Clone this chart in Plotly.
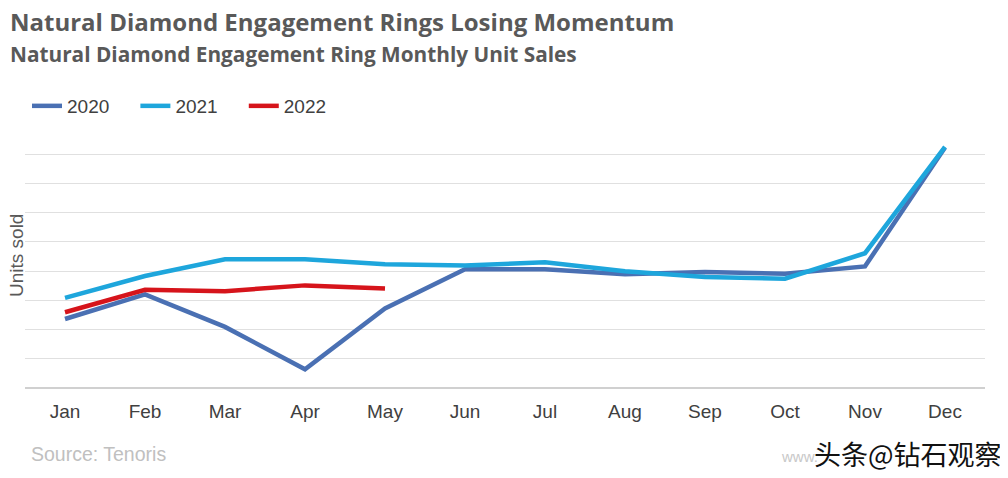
import plotly.graph_objects as go

months = ["Jan", "Feb", "Mar", "Apr", "May", "Jun", "Jul", "Aug", "Sep", "Oct", "Nov", "Dec"]
sales_2020 = [2.36, 3.20, 2.09, 0.64, 2.72, 4.06, 4.06, 3.89, 3.97, 3.91, 4.16, 8.23]
sales_2021 = [3.08, 3.83, 4.40, 4.40, 4.23, 4.19, 4.30, 3.99, 3.80, 3.74, 4.61, 8.25]
sales_2022 = [2.59, 3.36, 3.31, 3.51, 3.40]

series = [("2020", sales_2020, "#4a70b3"), ("2021", sales_2021, "#1ea6dc"), ("2022", sales_2022, "#d6141b")]

# page shows the figure offset by ~8px; work in reference pixel coords minus OFF
OFF = 8
W, H = 1000, 470
ML, MR, MT, MB = 25 - OFF, 1000 - (985 - OFF), 124 - OFF, 470 - (388 - OFF)


def px(x):
    return (x - OFF - ML) / (W - ML - MR)


def py(y):
    return (H - MB - (y - OFF)) / (H - MT - MB)


PAD = "\u00a0" * 4

fig = go.Figure()
for name, vals, col in series:
    fig.add_trace(go.Scatter(x=months[:len(vals)], y=vals, mode="lines", name=name + PAD,
                             line=dict(color=col, width=4.5)))

fig.update_layout(
    width=W, height=H,
    margin=dict(l=ML, r=MR, t=MT, b=MB, autoexpand=False),
    plot_bgcolor="white", paper_bgcolor="white",
    font=dict(family="Liberation Sans, Arial, sans-serif", color="#404040"),
    showlegend=True,
    legend=dict(orientation="h", x=px(27), xanchor="left", y=py(106), yanchor="middle",
                font=dict(size=19, color="#404040"), itemwidth=30, tracegroupgap=0,
                bgcolor="rgba(0,0,0,0)"),
    xaxis=dict(range=[-0.5, 11.5], showgrid=False, showline=False, ticks="", automargin=False,
               ticklabelstandoff=10,
               tickfont=dict(size=19, color="#404040")),
    yaxis=dict(range=[0, 9.03], dtick=1, showgrid=True, gridcolor="#e0e0e0", gridwidth=1,
               showticklabels=False, zeroline=True, zerolinecolor="#d0d0d0", zerolinewidth=2,
               automargin=False),
)

anns = [
    dict(text="<b>Natural Diamond Engagement Rings Losing Momentum</b>", x=8, y=22, size=24, color="#595959",
         family="Open Sans, sans-serif"),
    dict(text="<b>Natural Diamond Engagement Ring Monthly Unit Sales</b>", x=8, y=54, size=20.8, color="#595959",
         family="Open Sans, sans-serif"),
    dict(text="Source: Tenoris", x=29, y=454, size=19.5, color="#c0c0c0",
         family="Liberation Sans, Arial, sans-serif"),
    dict(text="www.", x=779, y=456, size=15, color="#c8c8c8",
         family="Liberation Sans, Arial, sans-serif"),
    dict(text="头条@钻石观察", x=812, y=453, size=27, color="#111111",
         family="Noto Sans CJK SC, sans-serif"),
]
for a in anns:
    fig.add_annotation(text=a["text"], xref="paper", yref="paper",
                       x=px(a["x"]), xanchor="left", y=py(a["y"]), yanchor="middle",
                       showarrow=False,
                       font=dict(size=a["size"], color=a["color"], family=a["family"]))

fig.add_annotation(text="Units sold", xref="paper", yref="paper",
                   x=px(16), xanchor="center", y=py(256), yanchor="middle",
                   textangle=-90, showarrow=False,
                   font=dict(size=19, color="#595959", family="Liberation Sans, Arial, sans-serif"))

fig.write_html("out.html")
